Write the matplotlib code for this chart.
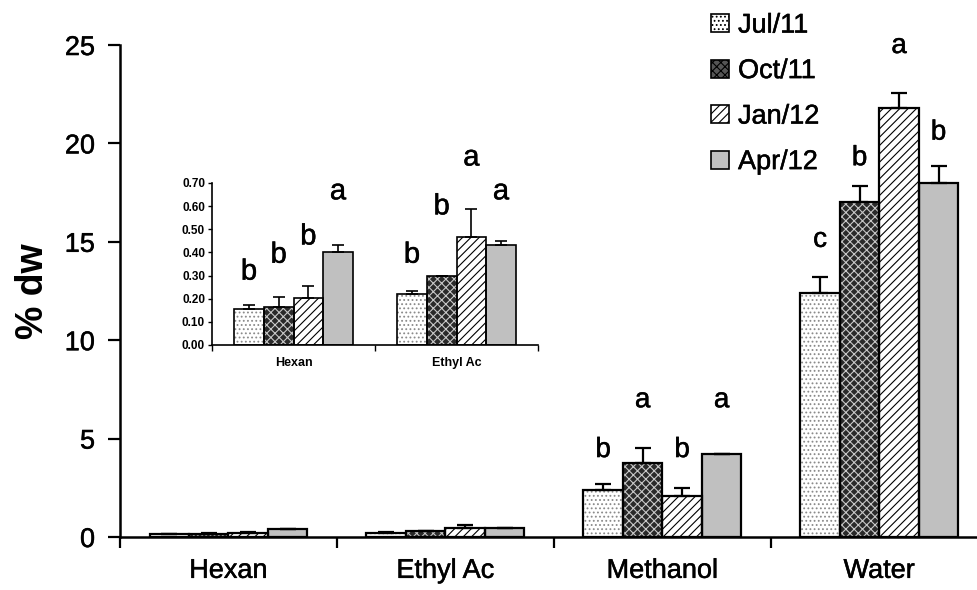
import numpy as np
import matplotlib
matplotlib.use("Agg")
import matplotlib.pyplot as plt
import matplotlib.patheffects as pe
from matplotlib.patches import Patch

plt.rcParams['font.family'] = ['Liberation Sans', 'DejaVu Sans']
plt.rcParams['hatch.linewidth'] = 0.8

# data
solvents = ['Hexan', 'Ethyl Ac', 'Methanol', 'Water']
seasons = ['Jul/11', 'Oct/11', 'Jan/12', 'Apr/12']
vals = {
    'Jul/11': [0.156, 0.219, 2.39, 12.39],
    'Oct/11': [0.166, 0.296, 3.76, 17.0],
    'Jan/12': [0.205, 0.465, 2.08, 21.78],
    'Apr/12': [0.400, 0.433, 4.21, 17.97],
}
errs = {
    'Jul/11': [0.015, 0.016, 0.30, 0.80],
    'Oct/11': [0.040, 0.0, 0.76, 0.86],
    'Jan/12': [0.048, 0.124, 0.41, 0.76],
    'Apr/12': [0.031, 0.016, 0.03, 0.90],
}
main_letters = {
    'Methanol': ['b', 'a', 'b', 'a'],
    'Water': ['c', 'b', 'a', 'b'],
}
main_letter_y = {
    'Methanol': [4.42, 6.95, 4.42, 6.95],
    'Water': [15.1, 19.25, 24.95, 20.55],
}
inset_letters = {
    'Hexan': ['b', 'b', 'b', 'a'],
    'Ethyl Ac': ['b', 'b', 'a', 'a'],
}
inset_letter_y = {
    'Hexan': [0.317, 0.39, 0.469, 0.664],
    'Ethyl Ac': [0.39, 0.599, 0.81, 0.664],
}

# styles: (face, hatch, hatch colour)
styles = {
    'Jul/11': ('white', '....', '#8a8a8a'),
    'Oct/11': ('#2a2a2a', 'xxxx', '#c8c8c8'),
    'Jan/12': ('white', '////', 'black'),
    'Apr/12': ('#c0c0c0', '', '#c0c0c0'),
}

bw = 0.182
heavy = [pe.withStroke(linewidth=0.35, foreground='black')]


def draw_bars(ax, n, lw, capsize, elw):
    x = np.arange(n)
    for i, s in enumerate(seasons):
        xs = x + (i - 1.5) * bw
        v = np.array(vals[s][:n])
        e = np.array(errs[s][:n])
        face, hatch, hc = styles[s]
        ax.bar(xs, v, bw, color=face, hatch=hatch, edgecolor=hc, linewidth=0, zorder=2)
        ax.bar(xs, v, bw, facecolor='none', edgecolor='black', linewidth=lw, zorder=3)
        ax.errorbar(xs, v, yerr=[np.zeros(n), e], fmt='none', ecolor='black',
                    elinewidth=elw, capsize=capsize, capthick=elw, zorder=4)


fig = plt.figure(figsize=(9.78, 5.9), dpi=100)
ax = fig.add_axes([0.1227, 0.0898, 0.8773, 0.8339])
draw_bars(ax, 4, 1.6, 6, 1.6)
ax.set_xlim(-0.5, 3.455)
ax.set_ylim(0, 25)
ax.set_yticks([0, 5, 10, 15, 20, 25])
ax.set_xticks([-0.5, 0.5, 1.5, 2.5])
ax.set_xticklabels([])
ax.set_xticks(np.arange(4), minor=True)
ax.set_xticklabels(solvents, minor=True, fontsize=19.5)
ax.tick_params(axis='x', which='minor', length=0, pad=15)
ax.tick_params(axis='x', which='major', length=8, width=1.6, direction='out')
ax.tick_params(axis='y', length=9, width=1.6, labelsize=19.5, pad=9)
for sp in ['top', 'right']:
    ax.spines[sp].set_visible(False)
for sp in ['left', 'bottom']:
    ax.spines[sp].set_linewidth(1.8)
ax.set_ylabel('% dw', fontsize=27, fontweight='bold', labelpad=10)
for t in ax.get_xticklabels(minor=True) + ax.get_yticklabels():
    t.set_path_effects(heavy)

for j, cat in enumerate(solvents):
    if cat in main_letters:
        for i in range(4):
            ax.text(j + (i - 1.5) * bw, main_letter_y[cat][i], main_letters[cat][i],
                    ha='center', va='center', fontsize=20, path_effects=heavy)

# inset
ins = fig.add_axes([0.2168, 0.4153, 0.3333, 0.2746])
draw_bars(ins, 2, 1.2, 4, 1.2)
ins.set_xlim(-0.5, 1.5)
ins.set_ylim(0, 0.70)
ins.set_yticks(np.arange(0, 0.71, 0.1))
ins.set_yticklabels(['%.2f' % t for t in np.arange(0, 0.71, 0.1)], fontsize=8.5, fontweight='bold')
ins.set_xticks([-0.5, 0.5, 1.5])
ins.set_xticklabels([])
ins.set_xticks([0, 1], minor=True)
ins.set_xticklabels(['Hexan', 'Ethyl Ac'], minor=True, fontsize=9, fontweight='bold')
ins.tick_params(axis='x', which='minor', length=0, pad=9)
ins.tick_params(axis='x', which='major', length=4, width=1.0)
ins.tick_params(axis='y', length=3, width=1.0, pad=2)
for sp in ['top', 'right']:
    ins.spines[sp].set_visible(False)
for sp in ['left', 'bottom']:
    ins.spines[sp].set_linewidth(1.2)
ins.patch.set_alpha(0)
for j, cat in enumerate(['Hexan', 'Ethyl Ac']):
    for i in range(4):
        ins.text(j + (i - 1.5) * bw, inset_letter_y[cat][i], inset_letters[cat][i],
                 ha='center', va='center', fontsize=21, clip_on=False, path_effects=heavy)

handles = [Patch(facecolor=styles[s][0] if s != 'Oct/11' else '#555555',
                 hatch=styles[s][1], edgecolor='black', linewidth=1.2) for s in seasons]
leg = fig.legend(handles, seasons, loc='upper left', bbox_to_anchor=(0.702, 1.02),
                 frameon=False, fontsize=19.5, handlelength=0.65, handleheight=0.65,
                 handletextpad=0.35, labelspacing=0.72)
for t in leg.get_texts():
    t.set_path_effects(heavy)

fig.savefig('out.png', dpi=100)
